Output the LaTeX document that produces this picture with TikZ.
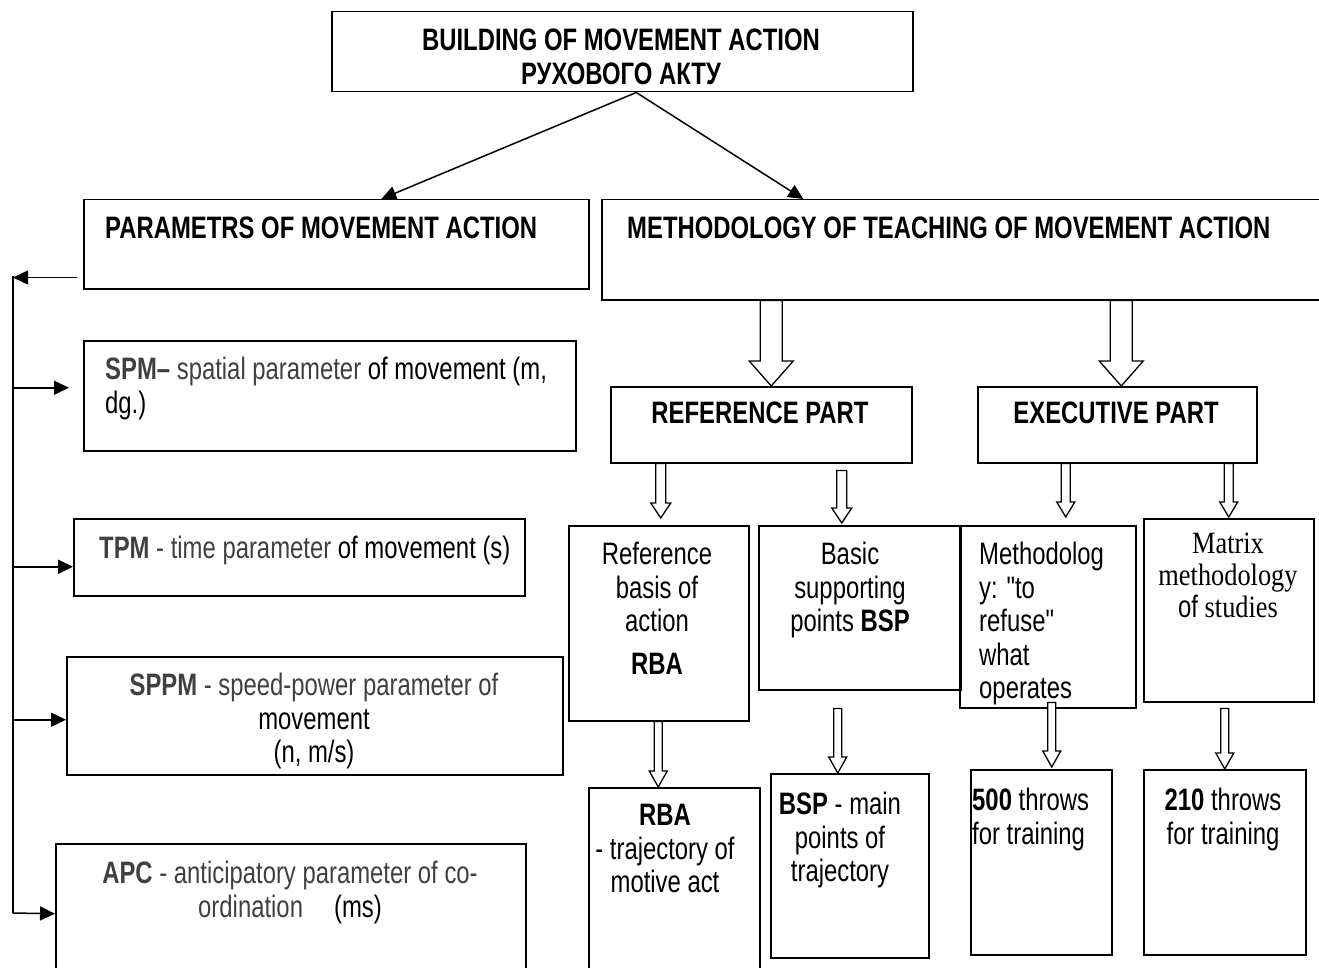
\documentclass[tikz,border=0pt]{standalone}
\usepackage{fontspec}
\setmainfont{Liberation Sans}[FakeStretch=0.77]
\newfontfamily\plainsans{Liberation Sans}[FakeStretch=0.77]
\newfontfamily\narrowserif{Liberation Serif}[FakeStretch=0.85]
\usetikzlibrary{arrows.meta,calc}
\definecolor{pgray}{HTML}{404040}
\newcommand{\diagfont}{\fontsize{31}{33.5}\selectfont}
\newcommand{\dq}{{\plainsans"}}
% hollow block arrow: tip, start, half shaft, half head, head length
\newcommand{\blockarrow}[5]{%
  \draw[hollow] let \p1=#1, \p2=#2 in
    (\x1-#3,\y2) -- (\x1-#3,\y1+#5) -- (\x1-#4,\y1+#5) -- (\x1,\y1)
    -- (\x1+#4,\y1+#5) -- (\x1+#3,\y1+#5) -- (\x1+#3,\y2) -- cycle;}

\begin{document}
\begin{tikzpicture}[x=1pt,y=-1pt,
    box/.style={draw, line width=1.5pt, inner sep=0pt, anchor=north west},
    txt/.style={inner sep=0pt, align=center, font=\diagfont},
    head/.style={inner sep=0pt, align=center, font=\diagfont\bfseries},
    arr/.style={line width=1.5pt, -{Triangle[length=15pt,width=14pt]}},
    hollow/.style={line width=1.3pt, fill=white, line join=miter}]

    \useasboundingbox (0,0) rectangle (1319,968);

    % top
    \node (top) at (331,11) [box, minimum width=581pt, minimum height=80pt] {};
    \node at (621,29) [head, anchor=north] {BUILDING OF MOVEMENT ACTION\\РУХОВОГО АКТУ};

    % second row
    \node (params) at (83,199) [box, minimum width=505pt, minimum height=89pt] {};
    \node at (105,217) [head, anchor=north west] {PARAMETRS OF MOVEMENT ACTION};
    \node (meth) at (601,199) [box, minimum width=721pt, minimum height=100pt] {};
    \node at (627,217) [head, anchor=north west] {METHODOLOGY OF TEACHING OF MOVEMENT ACTION};

    \draw[arr] ([xshift=14pt]top.south) -- ([xshift=45pt]params.north);
    \draw[arr] ([xshift=14pt]top.south) -- ([xshift=-159pt]meth.north);

    % parameters
    \node (spm) at (83,340) [box, minimum width=492pt, minimum height=110pt] {};
    \node at (105,357) [txt, anchor=north west, align=left]
        {\textcolor{pgray}{\bfseries SPM–} \textcolor{pgray}{spatial parameter} of movement (m,\\dg.)};
    \node (tpm) at (73,518) [box, minimum width=451pt, minimum height=77pt] {};
    \node at (99,536) [txt, anchor=north west]
        {\textcolor{pgray}{\bfseries TPM} \textcolor{pgray}{- time parameter} of movement (s)};
    \node (sppm) at (66,656) [box, minimum width=496pt, minimum height=118pt] {};
    \node at (314,673) [txt, anchor=north]
        {\textcolor{pgray}{\bfseries SPPM} \textcolor{pgray}{- speed-power parameter of}\\movement\\(n, m/s)};
    \node (apc) at (55,843) [box, minimum width=470pt, minimum height=140pt] {};
    \node at (290,861) [txt, anchor=north]
        {\textcolor{pgray}{\bfseries APC} \textcolor{pgray}{- anticipatory parameter of co-}\\\textcolor{pgray}{ordination}\quad(ms)};

    \coordinate (bustop) at (13,276);
    \coordinate (busbot) at (13,913);
    \coordinate (spmin) at ([yshift=8pt]spm.west);
    \coordinate (tpmin) at ([yshift=-9.5pt]tpm.west);
    \coordinate (sppmin) at ([yshift=-4pt]sppm.west);
    \coordinate (paramsout) at ([xshift=-6pt,yshift=12pt]params.south west);
    \draw[arr] (paramsout) -- (bustop |- paramsout);
    \draw[line width=1.5pt] (bustop) -- (busbot);
    \draw[arr] (bustop |- spmin) -- ([xshift=-14pt]spmin);
    \draw[arr] (bustop |- tpmin) -- (tpmin);
    \draw[arr] (bustop |- sppmin) -- (sppmin);
    \draw[arr] (busbot) -- (apc.west);

    % parts
    \node (refpart) at (610,386) [box, minimum width=301pt, minimum height=76pt] {};
    \node at (760,402) [head, anchor=north] {REFERENCE PART};
    \node (exec) at (977,386) [box, minimum width=279pt, minimum height=76pt] {};
    \node at (1116,402) [head, anchor=north] {EXECUTIVE PART};

    \blockarrow{([xshift=10pt]refpart.north)}{(meth.south)}{11pt}{22pt}{25pt}
    \blockarrow{([xshift=4pt]exec.north)}{(meth.south)}{11pt}{22pt}{25pt}

    % third row
    \node (rbasis) at (568,525) [box, minimum width=180pt, minimum height=195pt] {};
    \node at (657,542) [txt, anchor=north] {Reference\\basis of\\action\\[9pt]\textbf{RBA}};
    \node (bsupp) at (758,525) [box, minimum width=202pt, minimum height=164pt] {};
    \node at (850,542) [txt, anchor=north] {Basic\\supporting\\points \textbf{BSP}};
    \node (refuse) at (959,525) [box, minimum width=176pt, minimum height=182pt] {};
    \node at (979,542) [txt, anchor=north west, align=left] {Methodolog\\y: \dq to\\refuse\dq\\what\\operates};
    \node (matrix) at (1143,518) [box, minimum width=170pt, minimum height=183pt] {};
    \node at (1228,533) [txt, anchor=north, font=\fontsize{31}{32}\selectfont]
        {\narrowserif Matrix\\\narrowserif methodology\\of \narrowserif studies};

    \blockarrow{([xshift=2pt,yshift=7pt]rbasis.north)}{(refpart.south)}{5pt}{10pt}{15pt}
    \blockarrow{([xshift=-18pt,yshift=2pt]bsupp.north)}{([yshift=-7pt]refpart.south)}{5pt}{10pt}{15pt}
    \blockarrow{([xshift=18pt,yshift=8pt]refuse.north)}{(exec.south)}{4.5pt}{9pt}{15pt}
    \blockarrow{([yshift=1pt]matrix.north)}{(exec.south)}{4.5pt}{9pt}{15pt}

    % bottom row
    \node (rbaout) at (588,787) [box, minimum width=171pt, minimum height=200pt] {};
    \node at (665,804) [txt, anchor=north] {\textbf{RBA}\\- trajectory of\\motive act};
    \node (bspout) at (770,773) [box, minimum width=158pt, minimum height=184pt] {};
    \node at (840,792) [txt, anchor=north] {\textbf{BSP} - main\\points of\\trajectory};
    \node (out500) at (970,769) [box, minimum width=141pt, minimum height=185pt] {};
    \node at (972,788) [txt, anchor=north west, align=left] {\textbf{500} throws\\for training};
    \node (out210) at (1143,769) [box, minimum width=162pt, minimum height=185pt] {};
    \node at (1223,788) [txt, anchor=north] {\textbf{210} throws\\for training};

    \blockarrow{([xshift=-16pt]rbaout.north)}{(rbasis.south)}{4pt}{9pt}{16pt}
    \blockarrow{([xshift=-12pt]bspout.north)}{([yshift=-18pt]bsupp.south)}{4pt}{9pt}{16pt}
    \blockarrow{([xshift=10.5pt,yshift=2pt]out500.north)}{([yshift=6pt]refuse.south)}{4pt}{9pt}{16pt}
    \blockarrow{(out210.north)}{([yshift=-6pt]matrix.south)}{4pt}{9pt}{16pt}

\end{tikzpicture}
\end{document}
